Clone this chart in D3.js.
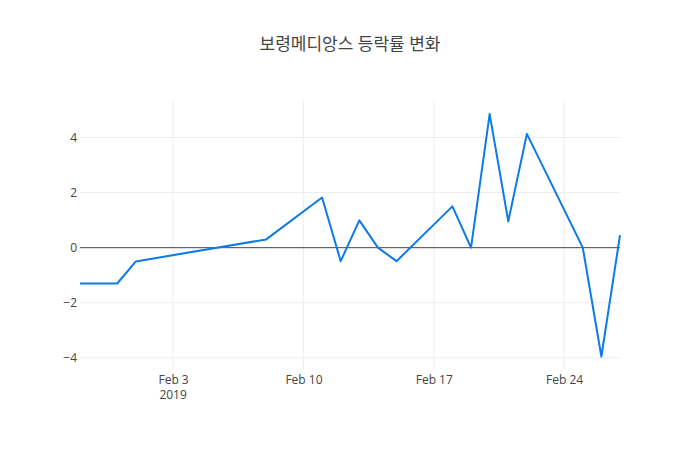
<!DOCTYPE html>
<html>
<head>
<meta charset="utf-8">
<script src="https://cdn.jsdelivr.net/npm/d3@7"></script>
<style>
  body { margin: 0; background: #fff; }
  svg text { font-family: "Open Sans", "Noto Sans CJK KR", sans-serif; fill: #444; }
</style>
</head>
<body>
<div id="chart"></div>
<script>
// Daily change rate (%) of the stock, Jan 29 - Feb 27 2019
const dates = [
    "2019-01-29", "2019-01-30", "2019-01-31", "2019-02-01", "2019-02-08",
    "2019-02-11", "2019-02-12", "2019-02-13", "2019-02-14", "2019-02-15",
    "2019-02-18", "2019-02-19", "2019-02-20", "2019-02-21", "2019-02-22",
    "2019-02-25", "2019-02-26", "2019-02-27"
];
const changeRates = [
    -1.3, -1.3, -1.3, -0.5, 0.3,
    1.82, -0.49, 0.99, 0.0, -0.49,
    1.5, 0.0, 4.85, 0.96, 4.13,
    0.0, -3.95, 0.45
];
const yTicks = [-4, -2, 0, 2, 4];
const xTicks = ["2019-02-03", "2019-02-10", "2019-02-17", "2019-02-24"];
const yearLabel = "2019";
const chartTitle = "보령메디앙스 등락률 변화";

function drawLineChart() {
    const margin = { top: 100, right: 80, bottom: 80, left: 80 };
    const totalWidth = 700, totalHeight = 450;
    const width = totalWidth - margin.left - margin.right;
    const height = totalHeight - margin.top - margin.bottom;

    const parse = d3.utcParse("%Y-%m-%d");
    const data = dates.map((d, i) => ({ date: parse(d), value: changeRates[i] }));

    const svg = d3.select("#chart")
        .append("svg")
        .attr("width", totalWidth)
        .attr("height", totalHeight);

    const g = svg.append("g")
        .attr("transform", `translate(${margin.left},${margin.top})`);

    const x = d3.scaleUtc()
        .domain(d3.extent(data, d => d.date))
        .range([0, width]);

    const y = d3.scaleLinear()
        .domain([-4.44, 5.36])
        .range([height, 0]);

    // Grid lines
    g.append("g")
        .selectAll("line")
        .data(yTicks.filter(t => t !== 0))
        .enter()
        .append("line")
        .attr("x1", 0)
        .attr("x2", width)
        .attr("y1", d => y(d))
        .attr("y2", d => y(d))
        .attr("stroke", "#eee")
        .attr("stroke-width", 1);

    g.append("g")
        .selectAll("line")
        .data(xTicks.map(parse))
        .enter()
        .append("line")
        .attr("x1", d => x(d))
        .attr("x2", d => x(d))
        .attr("y1", 0)
        .attr("y2", height)
        .attr("stroke", "#eee")
        .attr("stroke-width", 1);

    // Zero line
    g.append("line")
        .attr("x1", 0)
        .attr("x2", width)
        .attr("y1", y(0))
        .attr("y2", y(0))
        .attr("stroke", "#444")
        .attr("stroke-width", 1);

    // Y axis
    const yAxis = g.append("g")
        .call(d3.axisLeft(y).tickValues(yTicks).tickSize(0).tickPadding(3)
            .tickFormat(d => d < 0 ? "\u2212" + Math.abs(d) : d));
    yAxis.select(".domain").remove();
    yAxis.selectAll("text").style("font-size", "12px").attr("fill", "#444");

    // X axis
    const fmt = d3.utcFormat("%b %-d");
    const xAxis = g.append("g")
        .attr("transform", `translate(0,${height})`)
        .call(d3.axisBottom(x).tickValues(xTicks.map(parse)).tickSize(0).tickPadding(5)
            .tickFormat(fmt));
    xAxis.select(".domain").remove();
    xAxis.selectAll("text").style("font-size", "12px").attr("fill", "#444");

    // Year under the first date tick
    xAxis.append("text")
        .attr("x", x(parse(xTicks[0])))
        .attr("y", 29)
        .attr("text-anchor", "middle")
        .style("font-size", "12px")
        .text(yearLabel);

    // Line
    const line = d3.line()
        .x(d => x(d.date))
        .y(d => y(d.value));

    g.append("path")
        .datum(data)
        .attr("fill", "none")
        .attr("stroke", "#0b7be6")
        .attr("stroke-width", 2)
        .attr("stroke-linejoin", "round")
        .attr("d", line);

    // Title
    svg.append("text")
        .attr("x", totalWidth / 2)
        .attr("y", 50)
        .attr("text-anchor", "middle")
        .style("font-size", "17px")
        .text(chartTitle);
}

drawLineChart();
</script>
</body>
</html>
